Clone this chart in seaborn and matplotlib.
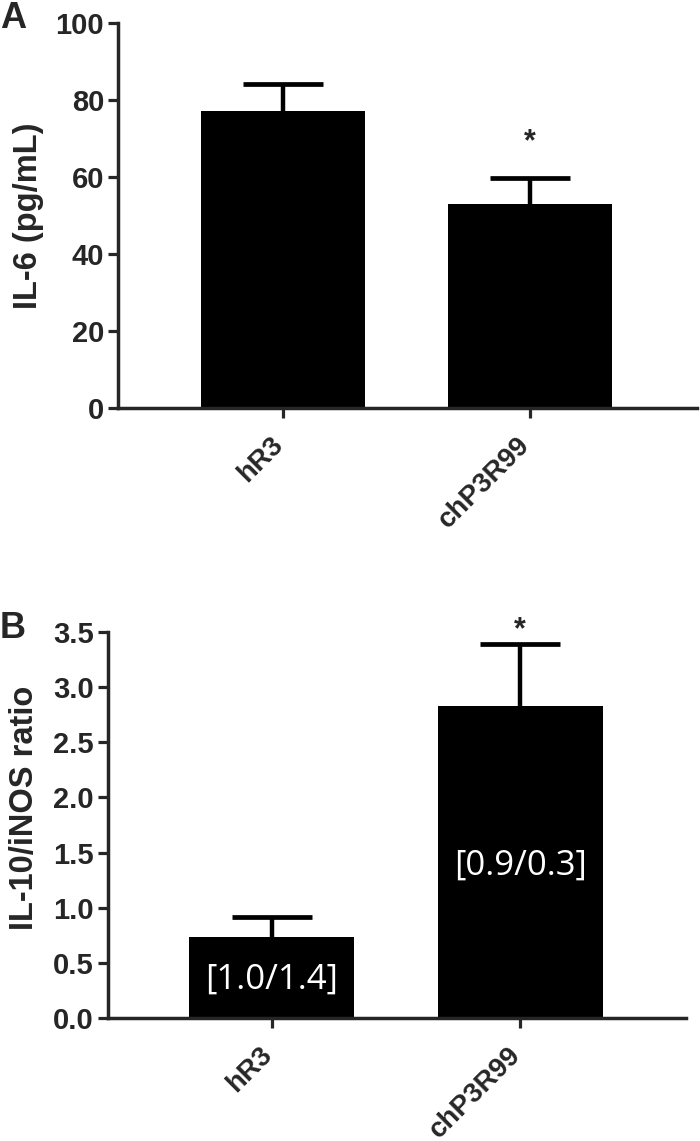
import pandas as pd
import matplotlib
matplotlib.use('Agg')
import matplotlib.pyplot as plt
import matplotlib.transforms as mtrans
import seaborn as sns

# values
groups = ['hR3', 'chP3R99']
il6_mean = [77.0, 53.0]
il6_sem = [7.0, 6.8]
ratio_mean = [0.73, 2.83]
ratio_sem = [0.19, 0.56]
ratio_notes = ['[1.0/1.4]', '[0.9/0.3]']
ratio_note_y = [0.35, 1.38]

sns.set_style('ticks')
plt.rcParams['font.family'] = ['Liberation Sans', 'DejaVu Sans']
plt.rcParams['font.weight'] = 'bold'

fig = plt.figure(figsize=(7, 11.41), dpi=100)
ax_a = fig.add_axes([0.1686, 0.6424, 0.827, 0.3377])
ax_b = fig.add_axes([0.1543, 0.1078, 0.8257, 0.3383])
nudge = mtrans.ScaledTranslation(4 / 72, -1 / 72, fig.dpi_scale_trans)


def draw_panel(ax, means, sems, ylim, yticks, ylabel, xlim):
    df = pd.DataFrame({'group': groups, 'value': means})
    sns.barplot(data=df, x='group', y='value', color='black', width=0.665,
                saturation=1, errorbar=None, linewidth=0, ax=ax)
    # lower half hides inside the black bar
    ax.errorbar(range(len(groups)), means, yerr=sems, fmt='none',
                ecolor='black', elinewidth=3.2, capsize=29, capthick=3.4)
    ax.set_xlim(*xlim)
    ax.set_ylim(*ylim)
    ax.set_yticks(yticks)
    ax.set_xlabel('')
    ax.set_ylabel(ylabel, fontsize=23.5, fontweight='bold')
    for side in ['top', 'right']:
        ax.spines[side].set_visible(False)
    for side in ['left', 'bottom']:
        ax.spines[side].set_linewidth(2.5)
    ax.tick_params(width=2.3, length=7)
    ax.tick_params(axis='y', labelsize=21, pad=3)
    ax.tick_params(axis='x', labelsize=20, pad=9)
    for lab in ax.get_xticklabels():
        lab.set_rotation(45)
        lab.set_ha('right')
        lab.set_fontweight('bold')
        lab.set_transform(lab.get_transform() + nudge)
    for lab in ax.get_yticklabels():
        lab.set_fontweight('bold')


draw_panel(ax_a, il6_mean, il6_sem, (0, 100), [0, 20, 40, 60, 80, 100],
           'IL-6 (pg/mL)', (-0.668, 1.676))
draw_panel(ax_b, ratio_mean, ratio_sem, (0, 3.5),
           [0, 0.5, 1.0, 1.5, 2.0, 2.5, 3.0, 3.5], 'IL-10/iNOS ratio',
           (-0.661, 1.669))
ax_b.set_yticklabels([f'{t:.1f}' for t in ax_b.get_yticks()])
for lab in ax_b.get_yticklabels():
    lab.set_fontweight('bold')

ax_a.yaxis.set_label_coords(-0.155, 0.5)
ax_a.yaxis.label.set_va('center')
ax_b.yaxis.set_label_coords(-0.1445, 0.545)
ax_b.yaxis.label.set_va('center')

# significance stars
ax_a.text(1, 69, '*', ha='center', va='center', fontsize=22, fontweight='bold')
ax_b.text(1, 3.52, '*', ha='center', va='center', fontsize=22,
          fontweight='bold', clip_on=False)

# ratio notes inside the bars
for i, (note, y) in enumerate(zip(ratio_notes, ratio_note_y)):
    ax_b.text(i, y, note, ha='center', va='center', color='white',
              fontsize=25, fontweight='normal', family=['Open Sans', 'DejaVu Sans'])

fig.text(0.0, 1 - 19 / 1141, 'A', fontsize=26, fontweight='bold', va='center')
fig.text(0.0, 1 - 629 / 1141, 'B', fontsize=26, fontweight='bold', va='center')

fig.savefig('out.png', dpi=100)
